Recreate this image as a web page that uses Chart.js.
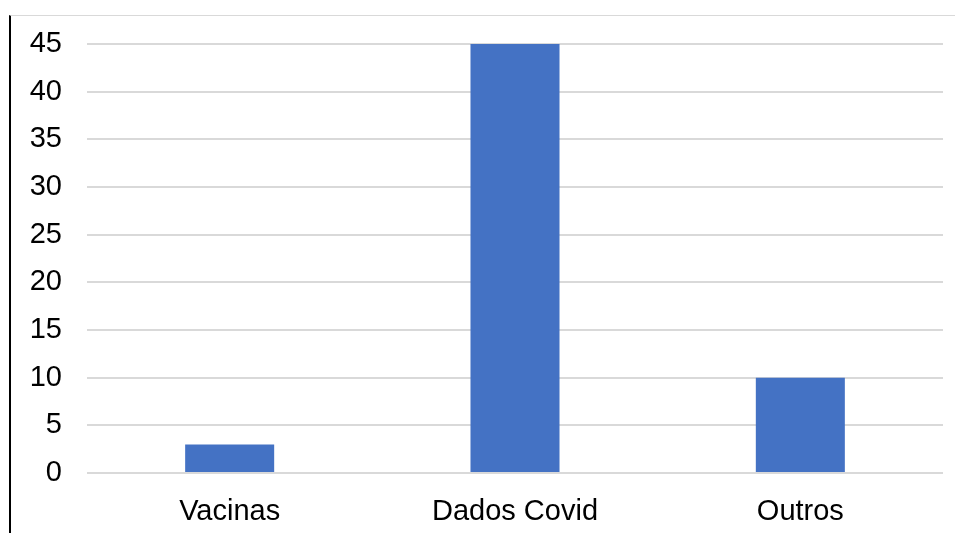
<!DOCTYPE html>
<html>
<head>
<meta charset="utf-8">
<script src="https://cdn.jsdelivr.net/npm/chart.js@4"></script>
<style>
  body { margin: 0; background: #fff; }
  #wrap { position: relative; width: 955px; height: 533px; }
  #frame { position: absolute; left: 9px; top: 15px; right: 0; bottom: 0;
           border-left: 2px solid #000; border-top: 1px solid #d9d9d9; pointer-events: none; }
</style>
</head>
<body>
<div id="wrap">
  <canvas id="chart" width="955" height="533"></canvas>
  <div id="frame"></div>
</div>
<script>
const categories = ["Vacinas", "Dados Covid", "Outros"];
const values = [3, 45, 10];
const yTicks = [0, 5, 10, 15, 20, 25, 30, 35, 40, 45];

/* CHART */
const chart = new Chart(document.getElementById("chart"), {
  type: "bar",
  data: {
    labels: categories,
    datasets: [{
      data: values,
      backgroundColor: "#4472C4",
      barPercentage: 1,
      categoryPercentage: 0.312
    }]
  },
  options: {
    responsive: false,
    animation: false,
    layout: { padding: { left: 12, right: 12, top: 44, bottom: 0 } },
    plugins: { legend: { display: false }, tooltip: { enabled: false } },
    scales: {
      x: {
        grid: { display: false },
        border: { display: false },
        ticks: { color: "#000", font: { family: "Liberation Sans", size: 29 }, padding: 14 },
        afterFit: s => { s.height = 60; }
      },
      y: {
        min: yTicks[0],
        max: yTicks[yTicks.length - 1],
        afterBuildTicks: s => { s.ticks = yTicks.map(v => ({ value: v })); },
        grid: { color: "#d9d9d9", lineWidth: 2, drawTicks: false },
        border: { display: false },
        ticks: { color: "#000", font: { family: "Liberation Sans", size: 29 }, padding: 25 },
        afterFit: s => { s.width = 75; }
      }
    }
  }
});
</script>
</body>
</html>
